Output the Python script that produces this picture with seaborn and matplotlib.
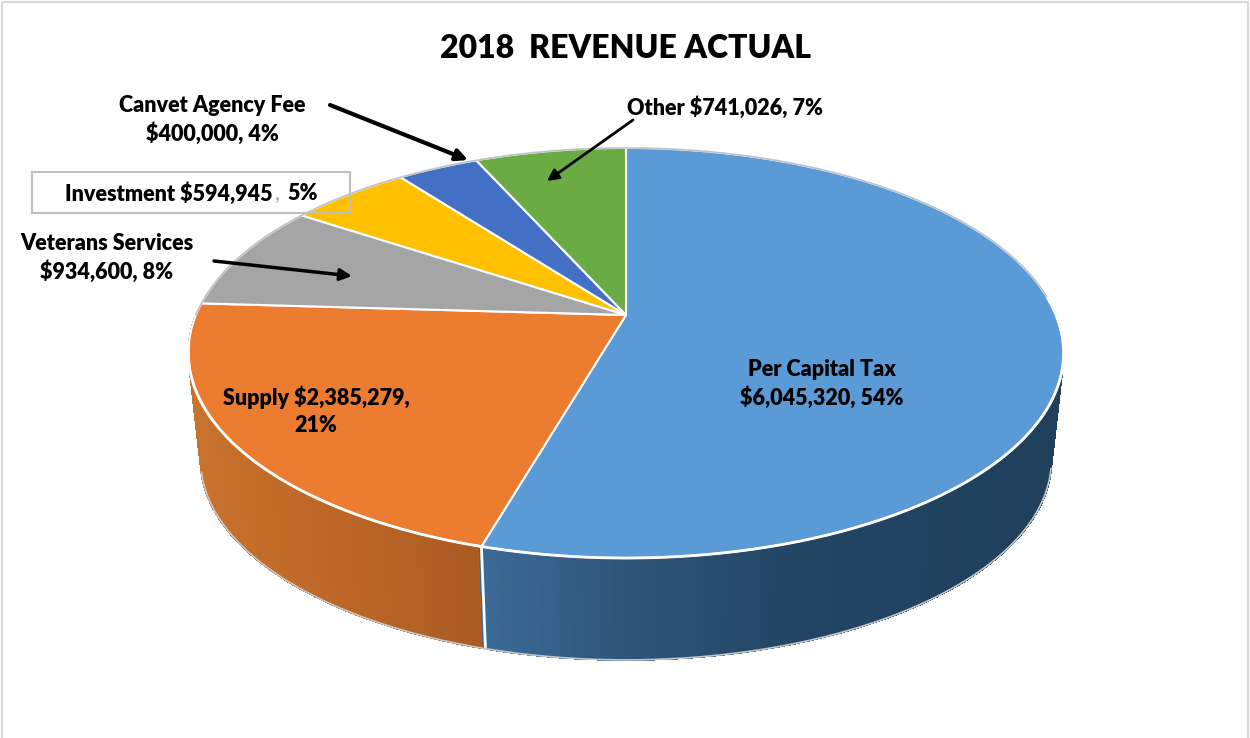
import numpy as np
import matplotlib
matplotlib.use("Agg")
import matplotlib.pyplot as plt
from matplotlib.colors import to_rgb
from matplotlib.patches import Rectangle
import seaborn as sns

# data, clockwise from 12 o'clock
categories = ["Per Capital Tax", "Supply", "Veterans Services", "Investment", "Canvet Agency Fee", "Other"]
revenue = [6045320, 2385279, 934600, 594945, 400000, 741026]
slice_colors = ["#5a9ad6", "#ec7c30", "#a5a5a5", "#ffc000", "#4170c4", "#6bab44"]
title_text = "2018  REVENUE ACTUAL"

sns.set_theme(style="white")
plt.rcParams["font.family"] = ["Lato", "DejaVu Sans"]
plt.rcParams["font.weight"] = "heavy"
palette = sns.color_palette(slice_colors)

LABEL_SIZE = 15.5
TILT = 0.1853  # perspective of the disc


def project(t, cx, cy, rx, ry):
    """Map angle t (radians, clockwise from top) onto the tilted disc."""
    x = np.sin(t)
    y = -np.cos(t)
    w = 1 - TILT * y
    return cx + rx * x / w, cy + ry * y / w


def top(t):
    return project(t, 626, 315, 430, 198)


def bottom(t):
    return project(t, 626, 423, 418, 193)


def shade(x, stops):
    xs, cols = zip(*stops)
    rgb = np.array([to_rgb(c) for c in cols])
    return [np.interp(x, xs, rgb[:, i]) for i in range(3)]


blue_side = [(485, "#3b6a96"), (620, "#2f5579"), (800, "#234564"), (1060, "#1f3f5b")]
orange_side = [(195, "#c9722d"), (350, "#bb6526"), (485, "#a95b23")]

edges = np.r_[0, np.cumsum(revenue)] / sum(revenue) * 2 * np.pi

fig = plt.figure(figsize=(12.5, 7.38), dpi=100)
ax = fig.add_axes([0, 0, 1, 1])
ax.set_xlim(0, 1250)
ax.set_ylim(738, 0)
ax.axis("off")

ax.add_patch(Rectangle((2, 2), 1246, 745, fill=False, ec="#d9d9d9", lw=1.5))

# side wall as thin strips so the shading can run along it
ts = np.radians(np.arange(88, 272, 0.5))
for t0, t1 in zip(ts[:-1], ts[1:]):
    xt0, yt0 = top(t0)
    xt1, yt1 = top(t1)
    xb0, yb0 = bottom(t0)
    xb1, yb1 = bottom(t1)
    stops = blue_side if t0 < edges[1] else orange_side
    col = shade((xt0 + xt1) / 2, stops)
    ax.fill([xt0, xt1, xb1, xb0], [yt0, yt1, yb1, yb0], color=col, lw=0.8, zorder=2, antialiased=False)

# seam between the two visible walls
xs0, ys0 = top(edges[1])
xs1, ys1 = bottom(edges[1])
ax.plot([xs0, xs1], [ys0, ys1], color="white", lw=2, zorder=3)

# outline of the wall
arc = np.radians(np.linspace(103, 256, 200))
bx, by = bottom(arc)
ax.plot(bx, by, color="#c4c9cc", lw=1.2, zorder=3)

# top face
for i in range(len(revenue)):
    arc = np.linspace(edges[i], edges[i + 1], 200)
    x, y = top(arc)
    ax.fill(np.r_[626, x], np.r_[315, y], color=palette[i], ec="white", lw=1.5, zorder=4, joinstyle="round")

arc = np.radians(np.linspace(-90, 85, 300))
x, y = top(arc)
ax.plot(x, y, color="#bfc3c6", lw=1.2, zorder=5)
arc = np.radians(np.linspace(85, 262, 300))
x, y = top(arc)
ax.plot(x, y, color="white", lw=2, zorder=5)

# labels
ax.text(626, 48, title_text, ha="center", va="center", fontsize=23, color="black", zorder=8)
ax.text(212, 105, "Canvet Agency Fee", ha="center", va="center", fontsize=LABEL_SIZE, color="black", zorder=8)
ax.text(212, 134, "$400,000, 4%", ha="center", va="center", fontsize=LABEL_SIZE, color="black", zorder=8)
ax.text(725, 108, "Other $741,026, 7%", ha="center", va="center", fontsize=LABEL_SIZE, color="black", zorder=8)
ax.text(107, 243, "Veterans Services", ha="center", va="center", fontsize=LABEL_SIZE, color="black", zorder=8)
ax.text(107, 272, "$934,600, 8%", ha="center", va="center", fontsize=LABEL_SIZE, color="black", zorder=8)
ax.text(316, 397, "Supply $2,385,279,", ha="center", va="center", fontsize=LABEL_SIZE, color="black", zorder=8)
ax.text(316, 425, "21%", ha="center", va="center", fontsize=LABEL_SIZE, color="black", zorder=8)
ax.text(822, 369, "Per Capital Tax", ha="center", va="center", fontsize=LABEL_SIZE, color="black", zorder=8)
ax.text(822, 398, "$6,045,320, 54%", ha="center", va="center", fontsize=LABEL_SIZE, color="black", zorder=8)

# Investment label sits in a box and has a pale comma
ax.add_patch(Rectangle((32, 172), 318, 41, fill=False, ec="#bfbfbf", lw=1.5, zorder=7))
ax.text(65, 194, "Investment $594,945", ha="left", va="center", fontsize=LABEL_SIZE, color="black", zorder=8)
ax.text(275, 194, ",", ha="left", va="center", fontsize=LABEL_SIZE, color="#a0a0a0", fontweight="normal", zorder=8)
ax.text(287, 194, "5%", ha="left", va="center", fontsize=LABEL_SIZE, color="black", zorder=8)

# leader arrows
for start, end, width, head in [
    ((330, 105), (468, 160), 3, 17),
    ((633, 120), (547, 181), 2, 17),
    ((214, 261), (352, 276), 2.5, 17),
]:
    ax.annotate("", xy=end, xytext=start, zorder=9,
                arrowprops=dict(arrowstyle="-|>", color="black", lw=width, mutation_scale=head,
                                shrinkA=0, shrinkB=0))

fig.savefig("out.png", dpi=100)
